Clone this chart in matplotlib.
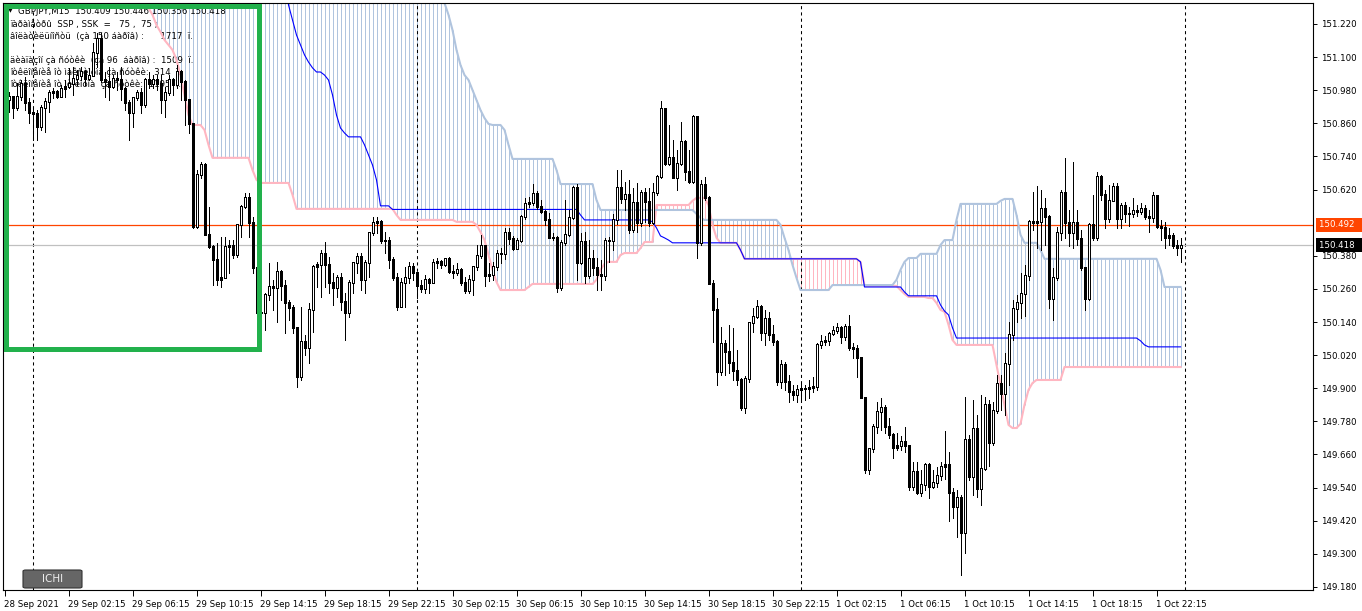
"""GBPJPY M15 chart with Ichimoku cloud, redrawn in matplotlib."""

import matplotlib

matplotlib.use("Agg")
import matplotlib.pyplot as plt
import numpy as np
from matplotlib.patches import FancyBboxPatch, Rectangle

# ---- candles (M15 bars from 28 Sep 22:15) ----
first_open = 150.920

closes = [
    150.945, 150.956, 150.919, 150.956, 151.003, 150.934, 150.898, 150.894, 150.847, 150.919,
    150.938, 150.970, 150.974, 150.959, 150.988, 150.995, 151.006, 151.024, 151.035, 151.046,
    151.024, 151.035, 151.115, 151.169, 151.017, 151.010, 150.992, 151.024, 151.017, 150.988,
    150.934, 150.898, 150.952, 150.970, 150.927, 151.017, 151.006, 151.017, 151.003, 150.945,
    150.970, 151.017, 150.999, 151.046, 151.010, 150.945, 150.861, 150.485, 150.673, 150.709,
    150.456, 150.412, 150.365, 150.293, 150.300, 150.412, 150.416, 150.383, 150.492, 150.557,
    150.593, 150.499, 150.336, 150.173, 150.173, 150.238, 150.267, 150.264, 150.322, 150.274,
    150.209, 150.191, 150.119, 149.941, 150.068, 150.046, 150.184, 150.340, 150.347, 150.390,
    150.347, 150.285, 150.264, 150.303, 150.213, 150.173, 150.282, 150.354, 150.376, 150.293,
    150.354, 150.463, 150.499, 150.503, 150.437, 150.434, 150.365, 150.300, 150.195, 150.282,
    150.303, 150.340, 150.318, 150.274, 150.260, 150.293, 150.282, 150.354, 150.358, 150.347,
    150.369, 150.322, 150.318, 150.329, 150.285, 150.253, 150.293, 150.340, 150.380, 150.416,
    150.307, 150.311, 150.343, 150.387, 150.390, 150.466, 150.441, 150.408, 150.437, 150.521,
    150.568, 150.572, 150.604, 150.557, 150.539, 150.510, 150.448, 150.445, 150.264, 150.427,
    150.456, 150.517, 150.626, 150.354, 150.430, 150.307, 150.372, 150.336, 150.311, 150.307,
    150.437, 150.434, 150.510, 150.626, 150.586, 150.601, 150.477, 150.572, 150.499, 150.611,
    150.575, 150.499, 150.611, 150.666, 150.912, 150.716, 150.735, 150.662, 150.716, 150.793,
    150.684, 150.651, 150.883, 150.427, 150.640, 150.593, 150.278, 150.184, 149.959, 150.064,
    150.032, 149.995, 149.966, 149.930, 149.829, 149.934, 150.137, 150.159, 150.195, 150.101,
    150.151, 150.093, 150.068, 149.923, 149.985, 149.923, 149.887, 149.876, 149.894, 149.898,
    149.898, 149.901, 149.905, 150.057, 150.068, 150.072, 150.097, 150.111, 150.119, 150.086,
    150.122, 150.046, 150.043, 150.010, 149.865, 149.604, 149.680, 149.760, 149.814, 149.832,
    149.760, 149.731, 149.684, 149.691, 149.706, 149.691, 149.543, 149.597, 149.524, 149.550,
    149.622, 149.543, 149.557, 149.583, 149.615, 149.622, 149.524, 149.470, 149.503, 149.376,
    149.713, 149.579, 149.756, 149.535, 149.611, 149.840, 149.702, 149.818, 149.919, 149.880,
    149.988, 150.093, 150.188, 150.209, 150.245, 150.307, 150.503, 150.499, 150.506, 150.550,
    150.524, 150.227, 150.303, 150.463, 150.608, 150.499, 150.466, 150.499, 150.441, 150.336,
    150.227, 150.492, 150.445, 150.666, 150.601, 150.514, 150.582, 150.630, 150.514, 150.561,
    150.535, 150.535, 150.543, 150.539, 150.550, 150.524, 150.517, 150.597, 150.485, 150.481,
    150.448, 150.452, 150.416, 150.409, 150.418,
]

highs = [
    150.963, 150.974, 150.956, 151.006, 151.017, 151.028, 150.952, 150.916, 150.908, 150.927,
    150.952, 150.981, 150.988, 150.981, 150.999, 151.017, 151.061, 151.064, 151.053, 151.064,
    151.053, 151.061, 151.151, 151.187, 151.187, 151.046, 151.064, 151.035, 151.046, 151.064,
    150.992, 150.945, 150.956, 150.981, 150.988, 151.024, 151.046, 151.035, 151.035, 151.035,
    150.992, 151.035, 151.024, 151.071, 151.053, 151.017, 150.945, 150.861, 150.691, 150.720,
    150.716, 150.557, 150.419, 150.427, 150.448, 150.448, 150.437, 150.437, 150.492, 150.564,
    150.608, 150.608, 150.521, 150.336, 150.220, 150.245, 150.354, 150.293, 150.358, 150.329,
    150.293, 150.220, 150.202, 150.122, 150.195, 150.093, 150.209, 150.347, 150.358, 150.401,
    150.430, 150.376, 150.318, 150.311, 150.318, 150.245, 150.293, 150.358, 150.390, 150.390,
    150.365, 150.463, 150.521, 150.521, 150.510, 150.466, 150.448, 150.376, 150.318, 150.300,
    150.340, 150.358, 150.354, 150.318, 150.293, 150.311, 150.300, 150.369, 150.372, 150.365,
    150.372, 150.376, 150.347, 150.354, 150.336, 150.303, 150.311, 150.340, 150.419, 150.456,
    150.416, 150.354, 150.358, 150.401, 150.408, 150.481, 150.481, 150.452, 150.445, 150.528,
    150.590, 150.593, 150.640, 150.615, 150.582, 150.546, 150.535, 150.463, 150.452, 150.437,
    150.582, 150.546, 150.633, 150.640, 150.463, 150.466, 150.437, 150.401, 150.372, 150.365,
    150.445, 150.448, 150.532, 150.691, 150.691, 150.648, 150.655, 150.626, 150.644, 150.619,
    150.626, 150.626, 150.644, 150.673, 150.941, 150.916, 150.854, 150.800, 150.764, 150.865,
    150.800, 150.764, 150.890, 150.883, 150.655, 150.666, 150.597, 150.293, 150.227, 150.122,
    150.075, 150.130, 150.119, 150.039, 149.937, 149.945, 150.140, 150.191, 150.220, 150.202,
    150.184, 150.177, 150.130, 150.075, 150.003, 149.995, 149.948, 149.912, 149.912, 149.919,
    149.912, 149.930, 149.941, 150.064, 150.093, 150.090, 150.104, 150.126, 150.137, 150.126,
    150.133, 150.166, 150.064, 150.057, 150.010, 149.869, 149.684, 149.771, 149.851, 149.865,
    149.840, 149.793, 149.738, 149.738, 149.727, 149.760, 149.691, 149.633, 149.633, 149.604,
    149.630, 149.630, 149.604, 149.615, 149.633, 149.745, 149.669, 149.539, 149.532, 149.514,
    149.869, 149.731, 149.858, 149.804, 149.876, 149.869, 149.858, 149.851, 149.948, 149.948,
    150.028, 150.140, 150.220, 150.238, 150.318, 150.347, 150.510, 150.611, 150.633, 150.619,
    150.590, 150.528, 150.336, 150.485, 150.619, 150.735, 150.546, 150.720, 150.546, 150.474,
    150.340, 150.499, 150.601, 150.684, 150.673, 150.619, 150.637, 150.644, 150.644, 150.572,
    150.575, 150.557, 150.590, 150.564, 150.572, 150.564, 150.546, 150.611, 150.601, 150.510,
    150.503, 150.481, 150.463, 150.437, 150.446,
]

lows = [
    150.916, 150.901, 150.879, 150.908, 150.945, 150.908, 150.861, 150.800, 150.800, 150.836,
    150.829, 150.901, 150.952, 150.952, 150.959, 150.956, 150.988, 150.963, 150.999, 151.017,
    150.999, 151.017, 151.035, 151.064, 151.010, 150.956, 150.945, 150.988, 150.981, 150.945,
    150.908, 150.800, 150.847, 150.945, 150.898, 150.919, 150.988, 150.988, 150.981, 150.898,
    150.883, 150.963, 150.963, 150.988, 150.945, 150.854, 150.825, 150.481, 150.481, 150.662,
    150.456, 150.408, 150.274, 150.274, 150.267, 150.300, 150.318, 150.372, 150.376, 150.448,
    150.553, 150.448, 150.318, 150.148, 150.155, 150.111, 150.220, 150.184, 150.140, 150.220,
    150.101, 150.148, 150.101, 149.905, 149.930, 150.021, 149.992, 150.104, 150.267, 150.231,
    150.267, 150.245, 150.202, 150.231, 150.184, 150.075, 150.159, 150.245, 150.318, 150.256,
    150.245, 150.303, 150.456, 150.463, 150.427, 150.390, 150.336, 150.293, 150.184, 150.202,
    150.195, 150.282, 150.293, 150.227, 150.249, 150.245, 150.245, 150.282, 150.336, 150.336,
    150.343, 150.318, 150.300, 150.311, 150.274, 150.245, 150.245, 150.238, 150.329, 150.372,
    150.271, 150.289, 150.293, 150.329, 150.354, 150.369, 150.423, 150.401, 150.405, 150.430,
    150.514, 150.557, 150.564, 150.550, 150.535, 150.492, 150.445, 150.437, 150.249, 150.256,
    150.419, 150.452, 150.514, 150.293, 150.351, 150.282, 150.300, 150.311, 150.256, 150.256,
    150.293, 150.358, 150.401, 150.495, 150.572, 150.546, 150.463, 150.466, 150.466, 150.488,
    150.503, 150.488, 150.495, 150.601, 150.662, 150.709, 150.709, 150.662, 150.619, 150.709,
    150.655, 150.644, 150.644, 150.372, 150.419, 150.582, 150.278, 150.068, 149.912, 149.948,
    149.948, 149.955, 149.930, 149.912, 149.822, 149.811, 149.923, 150.104, 150.155, 150.075,
    150.057, 150.075, 150.057, 149.912, 149.901, 149.894, 149.851, 149.858, 149.851, 149.858,
    149.858, 149.865, 149.887, 149.894, 150.046, 150.057, 150.057, 150.093, 150.101, 150.064,
    150.075, 150.039, 150.010, 149.941, 149.865, 149.593, 149.590, 149.669, 149.738, 149.749,
    149.738, 149.720, 149.648, 149.677, 149.677, 149.669, 149.532, 149.532, 149.517, 149.510,
    149.532, 149.503, 149.539, 149.543, 149.568, 149.572, 149.419, 149.430, 149.361, 149.224,
    149.303, 149.568, 149.514, 149.506, 149.477, 149.604, 149.619, 149.695, 149.811, 149.822,
    149.804, 149.912, 150.075, 150.140, 150.155, 150.162, 150.293, 150.474, 150.408, 150.401,
    150.419, 150.191, 150.148, 150.293, 150.437, 150.445, 150.416, 150.408, 150.419, 150.329,
    150.184, 150.220, 150.437, 150.437, 150.582, 150.481, 150.503, 150.582, 150.481, 150.481,
    150.503, 150.488, 150.521, 150.524, 150.532, 150.514, 150.466, 150.503, 150.481, 150.437,
    150.408, 150.419, 150.408, 150.383, 150.356,
]

# ---- Ichimoku lines as (price, number of bars) runs; 151.45 = above the visible range ----
span_a_runs = [
    (151.45, 36), (151.278, 1), (151.253, 1), (151.216, 1), (151.191, 1), (151.162, 1),
    (151.144, 1), (151.126, 1), (151.090, 1), (151.035, 1), (150.963, 1), (150.890, 1),
    (150.854, 3), (150.836, 1), (150.782, 1), (150.735, 10), (150.691, 1), (150.655, 1),
    (150.644, 8), (150.601, 1), (150.550, 25), (150.528, 1), (150.510, 14), (150.503, 5),
    (150.492, 1), (150.466, 1), (150.437, 1), (150.383, 1), (150.329, 1), (150.285, 1),
    (150.256, 7), (150.267, 1), (150.278, 16), (150.293, 1), (150.329, 1), (150.351, 1),
    (150.358, 3), (150.383, 1), (150.390, 4), (150.408, 1), (150.430, 3), (150.564, 9),
    (150.579, 1), (150.590, 3), (150.564, 1), (150.492, 1), (150.445, 1), (150.427, 5),
    (150.401, 1), (150.369, 29), (150.358, 1), (150.271, 9), (150.256, 1), (150.242, 1),
    (150.231, 5), (150.227, 2), (150.209, 1), (150.184, 1), (150.177, 1), (150.130, 1),
    (150.075, 1), (150.057, 10), (149.985, 1), (149.912, 1), (149.840, 1), (149.767, 1),
    (149.756, 2), (149.771, 1), (149.840, 1), (149.894, 1), (149.919, 1), (149.930, 7),
    (149.977, 30),
]

span_b_runs = [
    (151.45, 110), (151.296, 1), (151.253, 1), (151.198, 1), (151.126, 1), (151.071, 1),
    (151.035, 1), (151.017, 1), (150.981, 1), (150.945, 1), (150.908, 1), (150.879, 1),
    (150.858, 1), (150.854, 3), (150.836, 1), (150.782, 1), (150.731, 11), (150.691, 1),
    (150.640, 9), (150.582, 1), (150.546, 24), (150.532, 1), (150.517, 1), (150.510, 19),
    (150.492, 1), (150.445, 1), (150.401, 1), (150.347, 1), (150.300, 1), (150.256, 8),
    (150.274, 16), (150.293, 1), (150.329, 1), (150.358, 1), (150.372, 3), (150.387, 5),
    (150.419, 1), (150.437, 3), (150.510, 1), (150.568, 10), (150.579, 1), (150.586, 3),
    (150.528, 1), (150.456, 1), (150.427, 4), (150.401, 1), (150.369, 29), (150.329, 1),
    (150.267, 5),
]

kijun_runs = [
    (151.45, 71), (151.289, 1), (151.235, 1), (151.180, 1), (151.144, 1), (151.108, 1),
    (151.082, 1), (151.061, 1), (151.046, 2), (151.035, 1), (151.017, 1), (150.963, 1),
    (150.890, 1), (150.843, 1), (150.825, 1), (150.811, 4), (150.782, 1), (150.745, 1),
    (150.709, 1), (150.655, 1), (150.561, 3), (150.548, 47), (150.528, 1), (150.510, 17),
    (150.503, 1), (150.481, 1), (150.452, 1), (150.445, 1), (150.437, 1), (150.427, 17),
    (150.401, 1), (150.369, 29), (150.358, 1), (150.267, 10), (150.249, 1), (150.235, 8),
    (150.202, 1), (150.180, 1), (150.166, 1), (150.119, 1), (150.082, 46), (150.072, 1),
    (150.057, 1), (150.050, 9),
]

# ---- axes labels and markers ----
x_tick_bars = list(range(0, 289, 16))
x_tick_labels = [
    "28 Sep 2021", "29 Sep 02:15", "29 Sep 06:15", "29 Sep 10:15", "29 Sep 14:15",
    "29 Sep 18:15", "29 Sep 22:15", "30 Sep 02:15", "30 Sep 06:15", "30 Sep 10:15",
    "30 Sep 14:15", "30 Sep 18:15", "30 Sep 22:15", "1 Oct 02:15", "1 Oct 06:15",
    "1 Oct 10:15", "1 Oct 14:15", "1 Oct 18:15", "1 Oct 22:15",
]
# 150.500 sits under the 150.492 price tag, so it is not labelled
y_ticks = [149.180, 149.300, 149.420, 149.540, 149.660, 149.780, 149.900, 150.020,
           150.140, 150.260, 150.380, 150.620, 150.740, 150.860, 150.980,
           151.100, 151.220]
day_breaks = [7, 103, 199, 295]  # bars at 00:00
alert_price = 150.492
bid_price = 150.418

info_lines = [
    "ïàðàìåòðû  SSP , SSK  =   75 ,  75 ;",
    "âîëàòèëüíîñòü  (çà 150 áàðîâ) :      1717  ï.",
    "",
    "äèàïàçîí çà ñóòêè  (çà 96  áàðîâ) :  1509  ï.",
    "îòêëîíåíèå îò ìàêñèìóìà çà ñóòêè:  314  ï.",
    "îòêëîíåíèå îò ìèíèìóìà  çà ñóòêè:  1195  ï.",
]
header = "GBPJPY,M15  150.409 150.446 150.356 150.418"

PINK = "#FFB6C1"
STEEL = "#B0C4DE"
W, H = 1362, 611
FONT = 6.2
PX = 72 / 100  # one pixel in points


def expand(runs):
    values, counts = zip(*runs)
    return np.repeat(values, counts)


def fx(px):
    return px / W


def fy(py):
    return 1 - py / H


closes = np.array(closes)
highs = np.array(highs)
lows = np.array(lows)
opens = np.concatenate([[first_open], closes[:-1]])
highs = np.maximum(highs, np.maximum(opens, closes))
lows = np.minimum(lows, np.minimum(opens, closes))
x = np.arange(len(closes))

span_a = expand(span_a_runs)
span_b = expand(span_b_runs)
kijun = expand(kijun_runs)

plt.rcParams["font.family"] = "DejaVu Sans"
fig = plt.figure(figsize=(W / 100, H / 100), dpi=100)
ax = fig.add_axes([fx(3), fy(590), (1313 - 3) / W, (590 - 3) / H])
ax.set_xlim(-0.375, 327.125)
ymin, ymax = 149.169, 151.296
ax.set_ylim(ymin, ymax)
price_px = (ymax - ymin) / 587  # price height of one pixel

# cloud hatch: one thin line per bar in the colour of the upper span
pink_up = span_a > span_b
cloud_lo = np.minimum(span_a, span_b)
cloud_hi = np.maximum(span_a, span_b)
ax.vlines(x[~pink_up], cloud_lo[~pink_up], cloud_hi[~pink_up],
          colors=STEEL, lw=PX, zorder=1)
ax.vlines(x[pink_up], cloud_lo[pink_up], cloud_hi[pink_up],
          colors=PINK, lw=PX, zorder=1)
ax.plot(x, span_a, color=PINK, lw=1.5, zorder=2)
ax.plot(x, span_b, color=STEEL, lw=1.5, zorder=2)
ax.plot(x, kijun, color="#0000FF", lw=0.8, zorder=2.5)

# separators and price lines
for bar in day_breaks:
    ax.axvline(bar, color="black", lw=0.75, ls=(0, (3, 3)), zorder=1.6)
ax.axhline(alert_price, color="#FF4500", lw=0.9, zorder=1.7)
ax.axhline(bid_price, color="#C0C0C0", lw=0.9, zorder=1.7)

# candles: wick, 3px body, 1px white core for rising bars
body_lo = np.minimum(opens, closes) - price_px / 2
body_hi = np.maximum(opens, closes) + price_px / 2
ax.vlines(x, lows, highs, colors="black", lw=PX, zorder=3, antialiased=False)
ax.vlines(x, body_lo, body_hi, colors="black", lw=3 * PX, zorder=4, antialiased=False)
bull = (closes > opens) & (closes - opens > 2 * price_px)
ax.vlines(x[bull], body_lo[bull] + price_px, body_hi[bull] - price_px,
          colors="white", lw=PX, zorder=5, antialiased=False)

# info text (under the candles)
ax.text(fx(8), fy(11), "▼", transform=fig.transFigure, fontsize=4.5,
        va="center", ha="left", zorder=1.2)
ax.text(fx(18), fy(11), header, transform=fig.transFigure, fontsize=FONT,
        va="center", ha="left", zorder=1.2)
for k, line in enumerate(info_lines):
    ax.text(fx(10), fy(24 + 12 * k), line, transform=fig.transFigure, fontsize=FONT,
            va="center", ha="left", zorder=1.2)

# axes styling
for side in ax.spines.values():
    side.set_linewidth(0.8)
    side.set_color("black")
ax.yaxis.tick_right()
ax.set_yticks(y_ticks)
ax.set_yticklabels([f"{v:.3f}" for v in y_ticks])
ax.tick_params(axis="y", direction="out", length=3, width=0.7, pad=3, labelsize=FONT)
ax.set_xticks(x_tick_bars)
ax.set_xticklabels(x_tick_labels)
ax.tick_params(axis="x", direction="out", length=4, width=0.7, pad=3, labelsize=FONT)
for lbl in ax.get_xticklabels():
    lbl.set_ha("left")

ytrans = ax.get_yaxis_transform()
ax.text(1.0045, alert_price, f"{alert_price:.3f}  ", transform=ytrans, color="white",
        fontsize=FONT, va="center", ha="left", zorder=6, clip_on=False,
        bbox=dict(boxstyle="square,pad=0.3", fc="#FF4500", ec="none"))
ax.text(1.0045, bid_price, f"{bid_price:.3f}  ", transform=ytrans, color="white",
        fontsize=FONT, va="center", ha="left", zorder=6, clip_on=False,
        bbox=dict(boxstyle="square,pad=0.3", fc="black", ec="none"))

# highlight frame and button
fig.add_artist(Rectangle((fx(5.5), fy(348.5)), (258.5 - 5.5) / W, (348.5 - 5.5) / H,
                         transform=fig.transFigure, fill=False, ec="#22B14C", lw=3.6))
fig.add_artist(FancyBboxPatch((fx(23), fy(588)), 59 / W, 18 / H,
                              boxstyle="round,pad=0,rounding_size=0.002",
                              transform=fig.transFigure, fc="#666666", ec="#333333", lw=0.8))
fig.text(fx(52.5), fy(579), "ICHI", color="#eeeeee", fontsize=7.5, ha="center", va="center")

fig.savefig("out.png", dpi=100, facecolor="white")
